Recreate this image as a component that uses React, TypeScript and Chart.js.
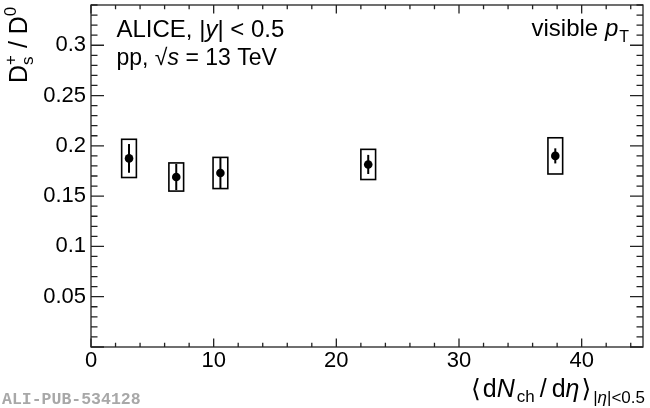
import React, { useEffect, useRef } from 'react';
import { Chart, registerables } from 'chart.js';

Chart.register(...registerables);

// ---- data ----
const multiplicity = [3.1, 6.95, 10.55, 22.6, 37.85];
const ratioDsD0 = [0.1875, 0.169, 0.173, 0.1815, 0.19];
const statErr = [0.0143, 0.013, 0.015, 0.0095, 0.0075];
const systErr = [0.019, 0.014, 0.0155, 0.015, 0.018];
const systXHalfWidth = [0.6, 0.6, 0.6, 0.6, 0.6];
const xTickValues = [0, 10, 20, 30, 40];
const yTickValues = [0.05, 0.1, 0.15, 0.2, 0.25, 0.3];
const X_RANGE = [0, 45];
const Y_RANGE = [0, 0.34];

const FONT = "'Liberation Sans', Arial, Helvetica, sans-serif";

type Run = { t: string; size: number; italic?: boolean; dy?: number; noAdvance?: boolean; font?: string; gap?: number };

function runFont(r: Run) {
  return `${r.italic ? 'italic ' : ''}${r.size}px ${r.font || FONT}`;
}

function measureRuns(ctx: CanvasRenderingContext2D, runs: Run[]) {
  let w = 0;
  let pending = 0;
  for (const r of runs) {
    ctx.font = runFont(r);
    const m = ctx.measureText(r.t).width + (r.gap || 0);
    if (r.noAdvance) {
      pending = Math.max(pending, m);
    } else {
      w += Math.max(m, pending);
      pending = 0;
    }
  }
  return w + pending;
}

function drawRuns(ctx: CanvasRenderingContext2D, runs: Run[], x: number, y: number) {
  let cx = x;
  let pending = 0;
  ctx.textBaseline = 'alphabetic';
  ctx.textAlign = 'left';
  for (const r of runs) {
    ctx.font = runFont(r);
    ctx.fillText(r.t, cx, y + (r.dy || 0));
    const m = ctx.measureText(r.t).width + (r.gap || 0);
    if (r.noAdvance) {
      pending = Math.max(pending, m);
    } else {
      cx += Math.max(m, pending);
      pending = 0;
    }
  }
}

const errorPlugin = {
  id: 'rootErrors',
  beforeDatasetsDraw(chart: any) {
    const ctx: CanvasRenderingContext2D = chart.ctx;
    const xs = chart.scales.x;
    const ys = chart.scales.y;
    ctx.save();
    ctx.strokeStyle = '#000';
    for (let i = 0; i < multiplicity.length; i++) {
      const x0 = xs.getPixelForValue(multiplicity[i] - systXHalfWidth[i]);
      const x1 = xs.getPixelForValue(multiplicity[i] + systXHalfWidth[i]);
      const yT = ys.getPixelForValue(ratioDsD0[i] + systErr[i]);
      const yB = ys.getPixelForValue(ratioDsD0[i] - systErr[i]);
      ctx.lineWidth = 1.6;
      ctx.strokeRect(x0, yT, x1 - x0, yB - yT);
      const xc = xs.getPixelForValue(multiplicity[i]);
      ctx.lineWidth = 2;
      ctx.beginPath();
      ctx.moveTo(xc, ys.getPixelForValue(ratioDsD0[i] + statErr[i]));
      ctx.lineTo(xc, ys.getPixelForValue(ratioDsD0[i] - statErr[i]));
      ctx.stroke();
    }
    ctx.restore();
  },
};

const framePlugin = {
  id: 'rootFrame',
  afterDraw(chart: any) {
    const ctx: CanvasRenderingContext2D = chart.ctx;
    const { left, right, top, bottom } = chart.chartArea;
    const xs = chart.scales.x;
    const ys = chart.scales.y;
    ctx.save();
    ctx.strokeStyle = '#222';
    ctx.lineWidth = 1.3;
    ctx.strokeRect(left, top, right - left, bottom - top);
    ctx.beginPath();
    for (let k = 0; k <= 22; k++) {
      const v = k * 2;
      const px = xs.getPixelForValue(v);
      const len = v % 10 === 0 ? 8.5 : 4.3;
      ctx.moveTo(px, bottom);
      ctx.lineTo(px, bottom - len);
      ctx.moveTo(px, top);
      ctx.lineTo(px, top + len);
    }
    for (let k = 0; k <= 34; k++) {
      const py = ys.getPixelForValue(k / 100);
      const len = k % 5 === 0 ? 13 : 6.5;
      ctx.moveTo(left, py);
      ctx.lineTo(left + len, py);
      ctx.moveTo(right, py);
      ctx.lineTo(right - len, py);
    }
    ctx.stroke();

    ctx.fillStyle = '#000';
    // top-left annotation
    drawRuns(ctx, [
      { t: 'ALICE, |', size: 24 },
      { t: 'y', size: 24, italic: true },
      { t: '| < 0.5', size: 24 },
    ], 116.5, 36.5);
    drawRuns(ctx, [
      { t: 'pp, ', size: 23 },
      { t: '√', size: 23 },
      { t: 's', size: 23, italic: true },
      { t: ' = 13 TeV', size: 23 },
    ], 116.5, 65);
    // top-right annotation
    const vis: Run[] = [
      { t: 'visible ', size: 24 },
      { t: 'p', size: 24, italic: true, gap: 1 },
      { t: 'T', size: 16, dy: 6 },
    ];
    drawRuns(ctx, vis, 629 - measureRuns(ctx, vis), 36);

    // x-axis title
    const xt: Run[] = [
      { t: '⟨', size: 25, font: "'DejaVu Sans', sans-serif", gap: 2 },
      { t: 'd', size: 25 },
      { t: 'N', size: 25, italic: true, gap: 2 },
      { t: 'ch', size: 17, dy: 5, gap: 5 },
      { t: '/', size: 25, gap: 5 },
      { t: 'd', size: 25 },
      { t: 'η', size: 25, italic: true, gap: 2 },
      { t: '⟩', size: 25, font: "'DejaVu Sans', sans-serif", gap: 2 },
      { t: '|', size: 17, dy: 6 },
      { t: 'η', size: 17, dy: 6, italic: true },
      { t: '|<0.5', size: 17, dy: 6 },
    ];
    drawRuns(ctx, xt, 645 - measureRuns(ctx, xt), 396.5);

    // y-axis title (rotated)
    ctx.save();
    ctx.translate(27, 83);
    ctx.rotate(-Math.PI / 2);
    drawRuns(ctx, [
      { t: 'D', size: 25 },
      { t: 's', size: 17, dy: 6, noAdvance: true },
      { t: '+', size: 17, dy: -11 },
      { t: ' / D', size: 25 },
      { t: '0', size: 17, dy: -11 },
    ], 0, 0);
    ctx.restore();

    // publication id
    ctx.fillStyle = '#a8a8a8';
    ctx.font = "bold 16.5px 'Liberation Mono', 'DejaVu Sans Mono', monospace";
    ctx.textAlign = 'left';
    ctx.textBaseline = 'alphabetic';
    ctx.fillText('ALI-PUB-534128', 2, 404);
    ctx.restore();
  },
};

function zeroPadding(s: any) {
  s.paddingTop = 0;
  s.paddingBottom = 0;
  s.paddingLeft = 0;
  s.paddingRight = 0;
}

export default function App() {
  const canvasRef = useRef<HTMLCanvasElement | null>(null);

  useEffect(() => {
    if (!canvasRef.current) return;
    const chart = new Chart(canvasRef.current, {
      type: 'scatter',
      data: {
        datasets: [
          {
            label: 'Ds+/D0',
            data: multiplicity.map((x, i) => ({ x, y: ratioDsD0[i] })),
            backgroundColor: '#000',
            borderColor: '#000',
            pointRadius: 4.3,
            pointHoverRadius: 4.3,
            borderWidth: 0,
          },
        ],
      },
      options: {
        responsive: false,
        animation: false,
        events: [],
        layout: { padding: { top: 5, right: 7, left: 0, bottom: 0 } },
        plugins: { legend: { display: false }, tooltip: { enabled: false }, title: { display: false } },
        scales: {
          x: {
            type: 'linear',
            min: X_RANGE[0],
            max: X_RANGE[1],
            afterBuildTicks: (s: any) => { s.ticks = xTickValues.map((v) => ({ value: v })); },
            afterFit: (s: any) => { s.height = 61; zeroPadding(s); },
            grid: { display: false, drawTicks: false },
            border: { display: false },
            ticks: {
              padding: 1,
              maxRotation: 0,
              autoSkip: false,
              color: '#000',
              font: { family: FONT, size: 22 },
              callback: (v: any) => String(v),
            },
          },
          y: {
            type: 'linear',
            min: Y_RANGE[0],
            max: Y_RANGE[1],
            afterBuildTicks: (s: any) => { s.ticks = yTickValues.map((v) => ({ value: v })); },
            afterFit: (s: any) => { s.width = 91; zeroPadding(s); },
            grid: { display: false, drawTicks: false },
            border: { display: false },
            ticks: {
              padding: 5,
              autoSkip: false,
              color: '#000',
              font: { family: FONT, size: 22 },
              callback: (v: any) => String(Number(Number(v).toFixed(2))),
            },
          },
        },
      },
      plugins: [errorPlugin, framePlugin],
    });
    return () => chart.destroy();
  }, []);

  return (
    <div style={{ position: 'fixed', left: 0, top: 0, width: 650, height: 408, background: '#fff' }}>
      <canvas ref={canvasRef} width={650} height={408} style={{ display: 'block' }} />
    </div>
  );
}
